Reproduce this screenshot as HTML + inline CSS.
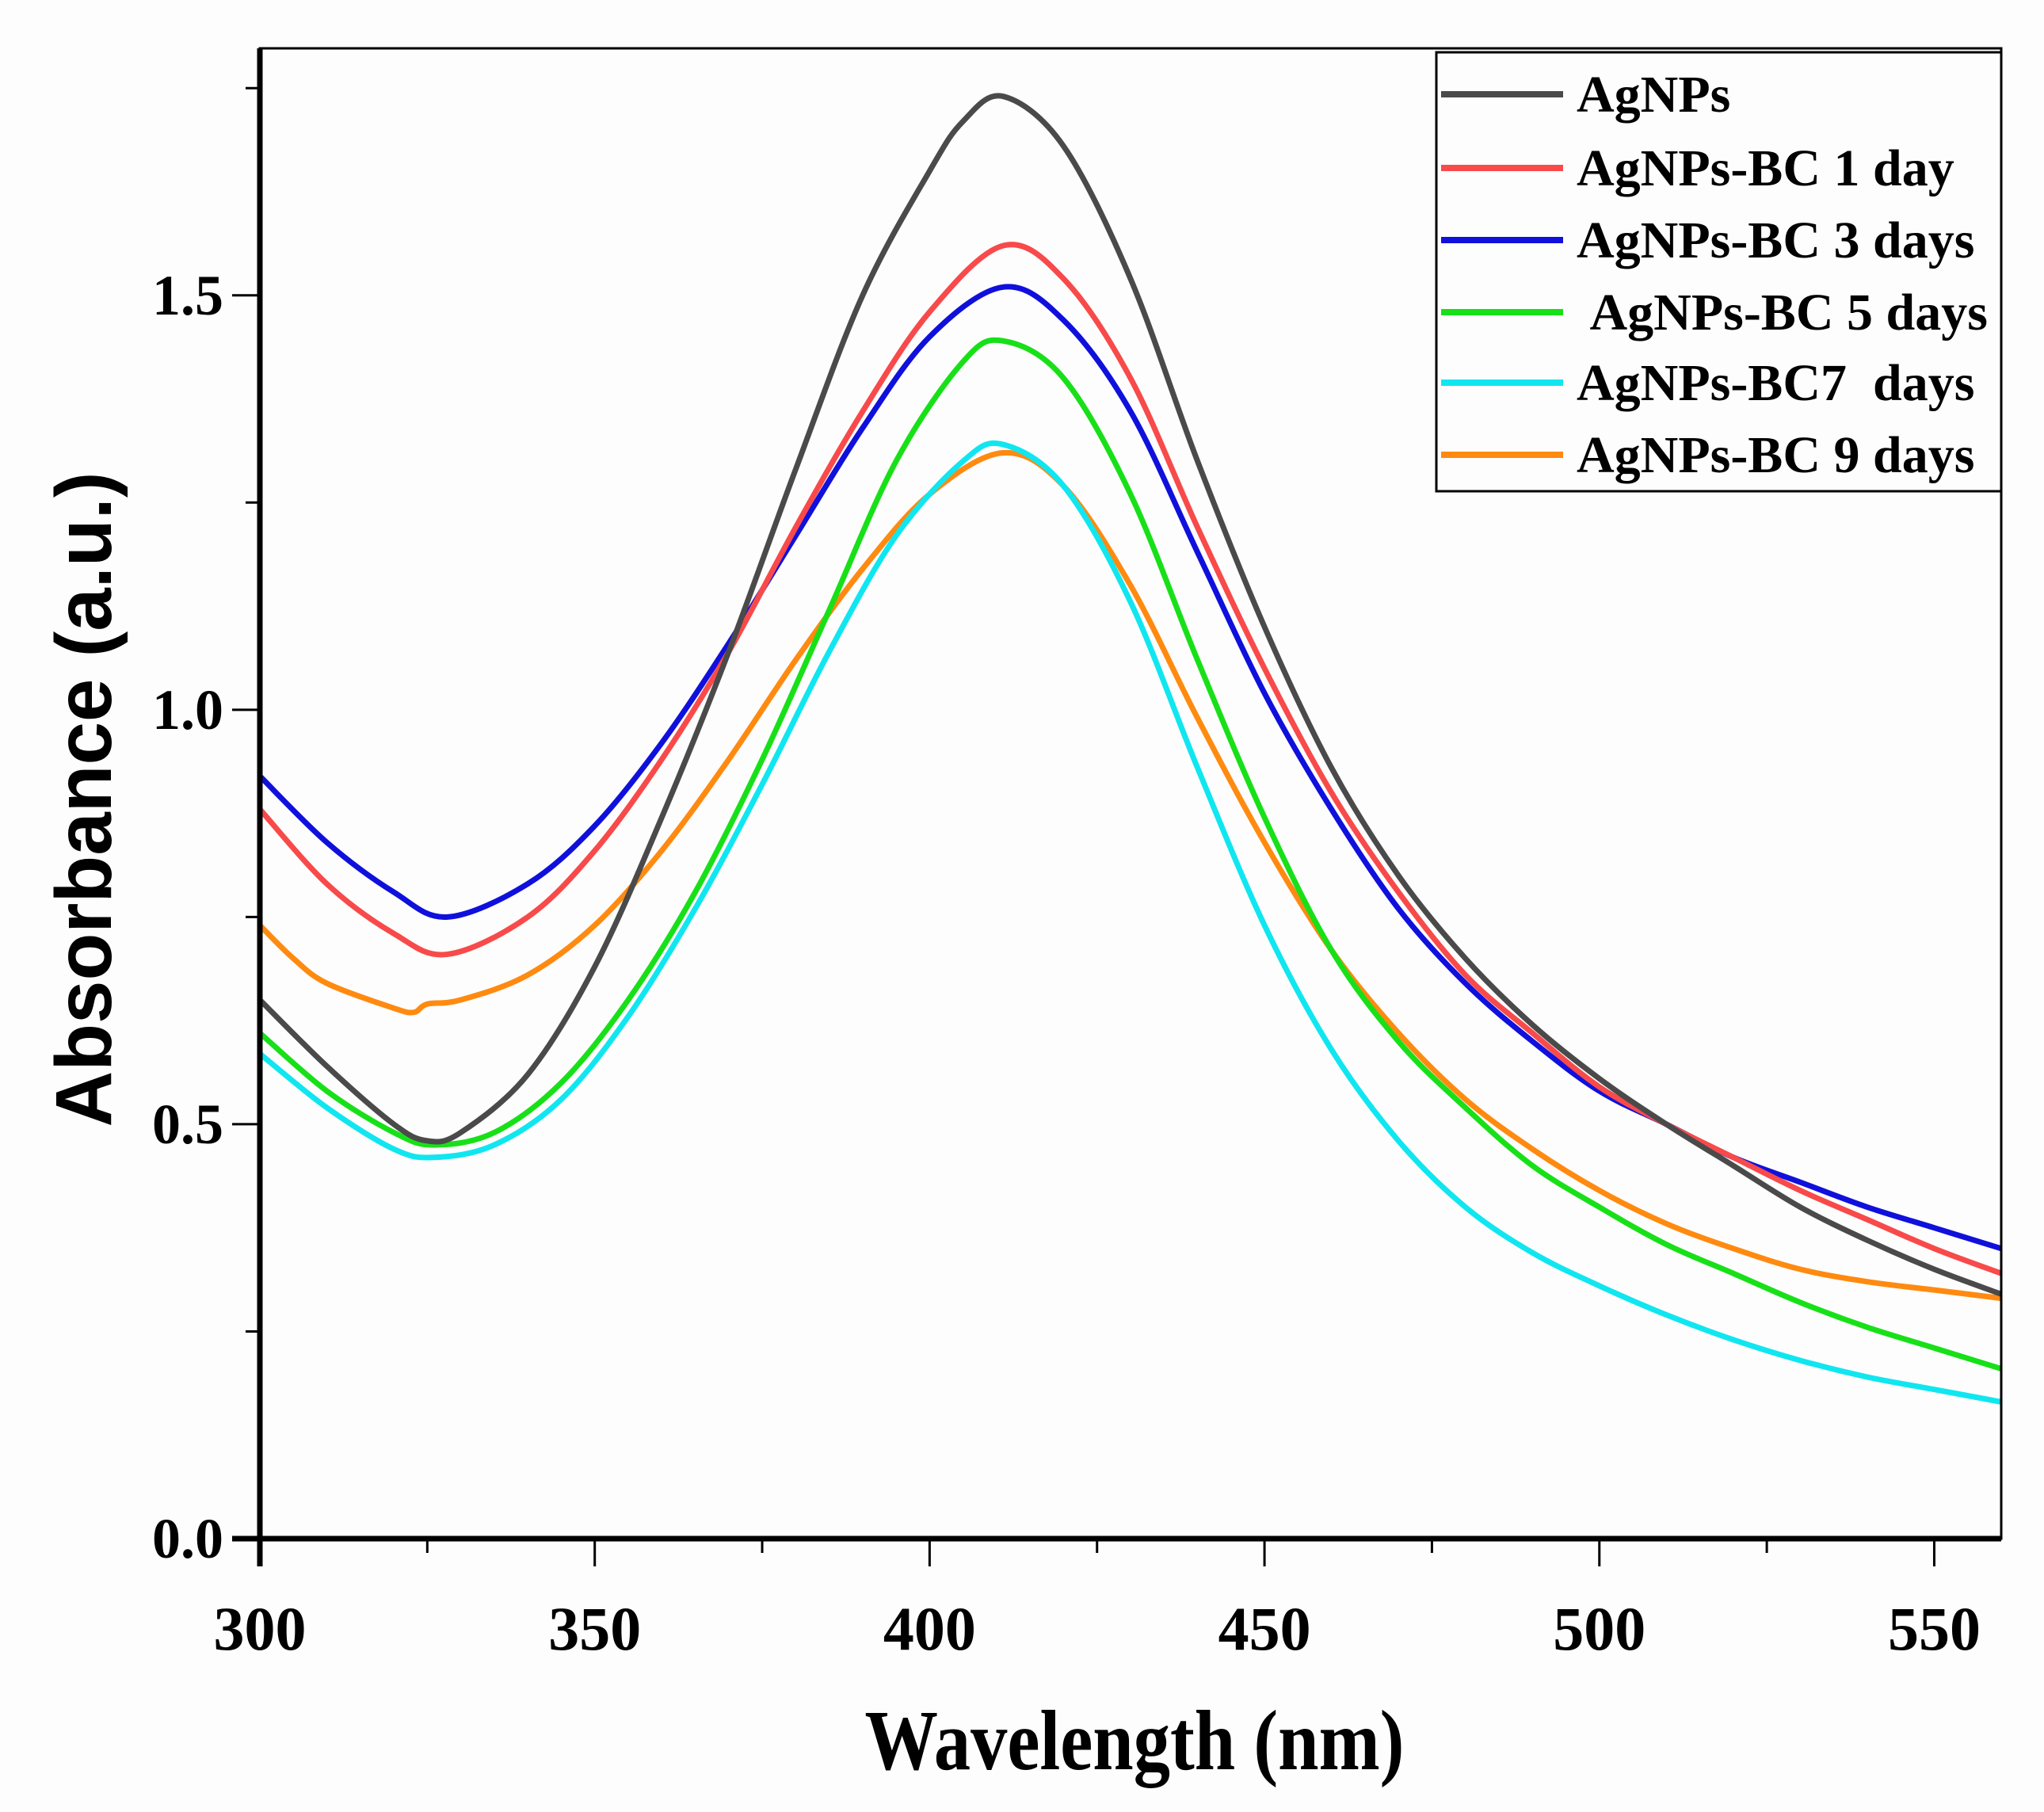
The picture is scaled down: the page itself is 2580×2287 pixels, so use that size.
<!DOCTYPE html>
<html><head><meta charset="utf-8"><style>
html,body{margin:0;padding:0;background:#fdfdfd;}
svg{display:block;}
</style></head><body>
<svg id="chart" width="2580" height="2287" xmlns="http://www.w3.org/2000/svg">
<rect width="2580" height="2287" fill="#fdfdfd"/>
<g id="plot"></g>
</svg>
<script>
const seriesNames=["AgNPs","AgNPs-BC 1 day","AgNPs-BC 3 days","\u00a0AgNPs-BC 5 days","AgNPs-BC7\u00a0\u00a0days","AgNPs-BC 9 days"];
const seriesColors=["#4a4a4a","#f84a4a","#1010dc","#18e018","#10e6f0","#ff8a10"];
const xTicks=[300,350,400,450,500,550];
const yTicks=[0.0,0.5,1.0,1.5];
const yTickLabels=["0.0","0.5","1.0","1.5"];
const wlGray=[300,310,320,325,330,340,350,360,370,380,390,400,405,411,420,430,440,450,460,470,480,490,500,510,520,530,540,550,560];
const absGray=[0.65,0.57,0.50,0.48,0.49,0.56,0.69,0.87,1.07,1.29,1.50,1.65,1.71,1.74,1.68,1.52,1.30,1.10,0.93,0.80,0.70,0.62,0.555,0.50,0.45,0.40,0.36,0.325,0.295];
const wlRed=[300,310,320,328,340,350,360,370,380,390,400,411,420,430,440,450,460,470,480,490,500,510,520,530,540,550,560];
const absRed=[0.88,0.79,0.73,0.705,0.75,0.83,0.94,1.07,1.22,1.36,1.48,1.56,1.52,1.40,1.22,1.05,0.90,0.78,0.68,0.61,0.545,0.50,0.46,0.42,0.385,0.35,0.32];
const wlBlue=[300,310,320,328,340,350,360,370,380,390,400,411,420,430,440,450,460,470,480,490,500,510,520,530,540,550,560];
const absBlue=[0.92,0.84,0.78,0.75,0.79,0.86,0.96,1.08,1.21,1.34,1.45,1.51,1.47,1.36,1.19,1.02,0.88,0.76,0.67,0.60,0.54,0.50,0.46,0.43,0.40,0.375,0.35];
const wlGreen=[300,310,320,326,335,345,355,365,375,385,395,405,411,420,430,440,450,460,470,480,490,500,510,520,530,540,550,560];
const absGreen=[0.61,0.54,0.49,0.475,0.49,0.55,0.65,0.78,0.94,1.12,1.30,1.42,1.445,1.40,1.26,1.06,0.87,0.71,0.60,0.52,0.45,0.40,0.355,0.32,0.285,0.255,0.23,0.205];
const wlCyan=[300,310,320,326,335,345,355,365,375,385,395,405,411,420,430,440,450,460,470,480,490,500,510,520,530,540,550,560];
const absCyan=[0.585,0.52,0.47,0.46,0.475,0.53,0.63,0.76,0.91,1.07,1.21,1.30,1.32,1.27,1.13,0.93,0.74,0.59,0.48,0.40,0.345,0.305,0.27,0.24,0.215,0.195,0.18,0.165];
const wlOrange=[300,305,310,320,323,325,330,340,350,360,370,380,390,400,411,420,430,440,450,460,470,480,490,500,510,520,530,540,550,560];
const absOrange=[0.74,0.70,0.67,0.64,0.635,0.645,0.65,0.68,0.74,0.83,0.94,1.06,1.17,1.26,1.31,1.27,1.15,0.99,0.84,0.71,0.61,0.53,0.47,0.42,0.38,0.35,0.325,0.31,0.30,0.29];
const seriesX=[wlGray,wlRed,wlBlue,wlGreen,wlCyan,wlOrange];
const seriesY=[absGray,absRed,absBlue,absGreen,absCyan,absOrange];

const L=328,R=2526,T=61,B=1942;
const xMin=300,xMax=560,yMin=0,yMax=1.798;
const sx=v=>L+(v-xMin)/(xMax-xMin)*(R-L);
const sy=v=>B-(v-yMin)/(yMax-yMin)*(B-T);
const NS="http://www.w3.org/2000/svg";
const plot=document.getElementById('plot');
function mk(tag,attrs,parent){const e=document.createElementNS(NS,tag);for(const k in attrs)e.setAttribute(k,attrs[k]);(parent||plot).appendChild(e);return e;}
function smooth(pts){let d=`M${pts[0][0]},${pts[0][1]}`;for(let i=0;i<pts.length-1;i++){const p0=pts[Math.max(0,i-1)],p1=pts[i],p2=pts[i+1],p3=pts[Math.min(pts.length-1,i+2)];const c1x=p1[0]+(p2[0]-p0[0])/6,c1y=p1[1]+(p2[1]-p0[1])/6,c2x=p2[0]-(p3[0]-p1[0])/6,c2y=p2[1]-(p3[1]-p1[1])/6;d+=` C${c1x},${c1y} ${c2x},${c2y} ${p2[0]},${p2[1]}`;}return d;}

const order=[5,4,3,2,1,0];
order.forEach(i=>{
  const pts=seriesX[i].map((x,j)=>[sx(x),sy(seriesY[i][j])]);
  const p=mk('path',{d:smooth(pts),fill:'none',stroke:seriesColors[i],'stroke-width':7,'stroke-linejoin':'round'});
  
  
});

const frame=mk('rect',{x:L,y:T,width:R-L,height:B-T,fill:'none',stroke:'#000','stroke-width':3});


const xAxis=mk('line',{x1:L-35,y1:B,x2:R,y2:B,stroke:'#000','stroke-width':7});


const yAxis=mk('line',{x1:L,y1:T,x2:L,y2:B+35,stroke:'#000','stroke-width':7});



for(let v=300;v<=560;v+=25){
  const major=(v%50===0);
  const t=mk('line',{x1:sx(v),y1:B,x2:sx(v),y2:B+(major?35:18),stroke:'#000','stroke-width':3});
  
  
}
xTicks.forEach(v=>{
  const t=mk('text',{x:sx(v),y:B+140,'text-anchor':'middle','font-family':'Liberation Serif, serif','font-weight':'bold','font-size':78});
  t.textContent=String(v);
  
  
});
for(let v=0;v<=1.76;v+=0.25){
  const major=Math.abs(v*2-Math.round(v*2))<1e-6;
  const t=mk('line',{x1:L,y1:sy(v),x2:L-(major?35:18),y2:sy(v),stroke:'#000','stroke-width':3});
  
  
}
yTicks.forEach((v,i)=>{
  const t=mk('text',{x:282,y:sy(v)+24,'text-anchor':'end','font-family':'Liberation Serif, serif','font-weight':'bold','font-size':72});
  t.textContent=yTickLabels[i];
  
  
});

const xt=mk('text',{x:1432,y:2233,'text-anchor':'middle','font-family':'Liberation Serif, serif','font-weight':'bold','font-size':108,textLength:681,lengthAdjust:'spacingAndGlyphs'});
xt.textContent='Wavelength (nm)';


const yt=mk('text',{x:0,y:0,'text-anchor':'middle','font-family':'Liberation Sans, sans-serif','font-weight':'bold','font-size':100,textLength:827,lengthAdjust:'spacingAndGlyphs',transform:'translate(140,1009) rotate(-90)'});
yt.textContent='Absorbance (a.u.)';



const lg=mk('g',{});


const lb=mk('rect',{x:1813,y:66,width:713,height:554,fill:'#fdfdfd',stroke:'#000','stroke-width':3},lg);


const ly=[119,212,303,394,483,574];
seriesNames.forEach((n,i)=>{
  const e=mk('g',{},lg);
  
  
  mk('line',{x1:1819,y1:ly[i],x2:1973,y2:ly[i],stroke:seriesColors[i],'stroke-width':8},e);
  const t=mk('text',{x:1990,y:ly[i]+22,'font-family':'Liberation Serif, serif','font-weight':'bold','font-size':66},e);
  t.textContent=n;
});
</script>
</body></html>
